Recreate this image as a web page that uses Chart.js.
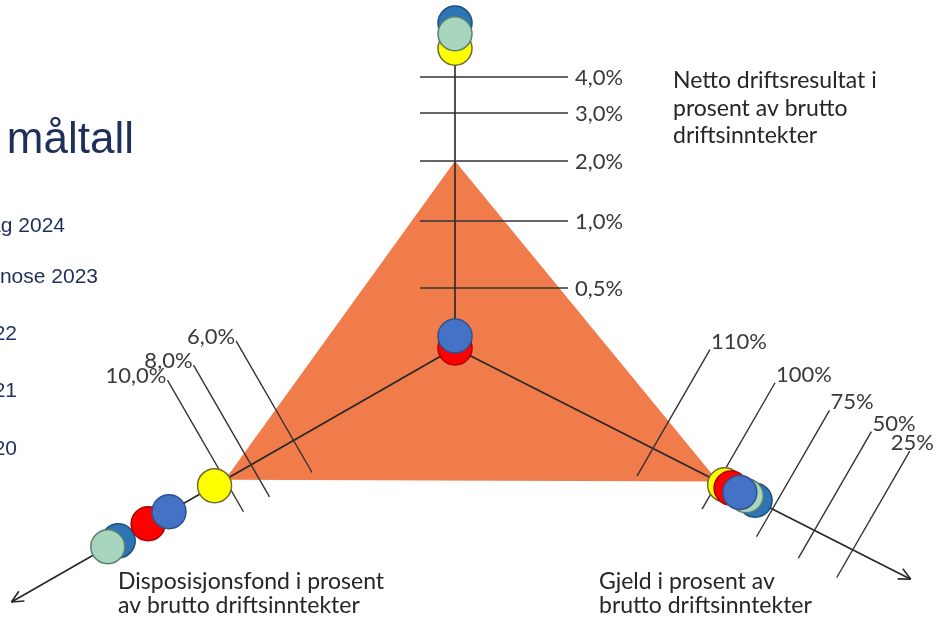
<!DOCTYPE html>
<html lang="no">
<head>
<meta charset="utf-8">
<title>Finansielle måltall</title>
<script src="https://cdn.jsdelivr.net/npm/chart.js@4.4.1/dist/chart.umd.min.js"></script>
<style>
  html, body { margin: 0; padding: 0; background: #fff; }
  canvas { display: block; }
</style>
</head>
<body>
<canvas id="grafMaaltall" width="942" height="619"></canvas>
<script>
// Serier (år) og verdier per måltall, i prosent av brutto driftsinntekter
const serier = ['Budsjettforslag 2024', 'Prognose 2023', '2022', '2021', '2020'];
const nettoDrift = [0.1, 0.0, 5.2, 5.5, 4.8];
const gjeld = [90, 94, 87, 83, 97];
const dispFond = [14.3, 15.9, 19.0, 18.2, 10.8];

// Måltallene (trekanten)
const maalNetto = 2.0;
const maalGjeld = 100;
const maalDisp = 10.0;

// Akseinndeling
const nettoTicks = [0.5, 1.0, 2.0, 3.0, 4.0];
const nettoTickLabels = ['0,5%', '1,0%', '2,0%', '3,0%', '4,0%'];
const gjeldTicks = [110, 100, 75, 50, 25];
const gjeldTickLabels = ['110%', '100%', '75%', '50%', '25%'];
const dispTicks = [6.0, 8.0, 10.0];
const dispTickLabels = ['6,0%', '8,0%', '10,0%'];

const aksetitler = {
    netto: ['Netto driftsresultat i', 'prosent av brutto', 'driftsinntekter'],
    disp: ['Disposisjonsfond i prosent', 'av brutto driftsinntekter'],
    gjeld: ['Gjeld i prosent av', 'brutto driftsinntekter']
};

// Farger per serie
const farger = ['#4472C4', '#FF0000', '#A8D5BE', '#2E75B6', '#FFFF00'];
const kantfarger = ['#2F528F', '#B00000', '#55806E', '#1F4E79', '#6B6B35'];

// Geometri: senter, akseretning og avstand (px) for hvert tick langs aksen
const senter = { x: 455, y: 348 };
const akser = {
    netto: { u: [0, -1], s: [1, 0], verdier: [0].concat(nettoTicks), avst: [0, 60, 127, 187, 235, 271], opp: 113, ned: 35, lengde: 300 },
    gjeld: { u: [0.8918, 0.4524], s: [0.5, -0.866], verdier: gjeldTicks, avst: [222, 295, 356, 403, 446], opp: 114, ned: 32, lengde: 511 },
    disp: { u: [-0.868, 0.497], s: [-0.5, -0.866], verdier: dispTicks, avst: [186, 235, 265], opp: 115, ned: 37, lengde: 511 }
};

// stykkevis lineær avstand fra senter for en verdi på en akse
function avstand(akse, verdi) {
    const v = akse.verdier, a = akse.avst;
    const retning = v[v.length - 1] - v[0];
    let i = 0;
    while (i < v.length - 2 && (verdi - v[i + 1]) * retning > 0) i++;
    const t = (verdi - v[i]) / (v[i + 1] - v[i]);
    return a[i] + t * (a[i + 1] - a[i]);
}

function punktPaa(akse, d) {
    return { x: senter.x + d * akse.u[0], y: senter.y + d * akse.u[1] };
}

function punkt(navn, verdi) {
    const akse = akser[navn];
    return punktPaa(akse, avstand(akse, verdi));
}

// Datasett: ett per år, tre punkter (ett per akse). Første datasett tegnes øverst.
const datasett = serier.map((navn, i) => ({
    label: navn,
    data: [punkt('netto', nettoDrift[i]), punkt('gjeld', gjeld[i]), punkt('disp', dispFond[i])],
    showLine: false,
    pointRadius: 17,
    pointBackgroundColor: farger[i],
    pointBorderColor: kantfarger[i],
    pointBorderWidth: 1.5,
    clip: false
}));

// Trekanten med måltallene
datasett.push({
    label: 'Måltall',
    data: [punkt('netto', maalNetto), punkt('gjeld', maalGjeld), punkt('disp', maalDisp), punkt('netto', maalNetto)],
    showLine: true,
    fill: 'shape',
    backgroundColor: '#F07B4B',
    borderColor: '#F07B4B',
    borderWidth: 0,
    pointRadius: 0,
    tension: 0,
    clip: false
});
const trekantIndeks = datasett.length - 1;

function linje(ctx, a, b) {
    ctx.beginPath();
    ctx.moveTo(a.x, a.y);
    ctx.lineTo(b.x, b.y);
    ctx.stroke();
}

const akseTegner = {
    id: 'akseTegner',
    afterDatasetDraw(chart, args) {
        if (args.index !== trekantIndeks) return;
        const ctx = chart.ctx;
        const sx = chart.scales.x, sy = chart.scales.y;
        const px = p => ({ x: sx.getPixelForValue(p.x), y: sy.getPixelForValue(p.y) });
        const c = px(senter);
        ctx.save();
        ctx.lineCap = 'butt';

        // aksene
        ctx.strokeStyle = '#262626';
        ctx.lineWidth = 1.6;
        Object.keys(akser).forEach(navn => {
            const akse = akser[navn];
            const ende = px(punktPaa(akse, akse.lengde));
            linje(ctx, c, ende);
            if (navn !== 'netto') {
                const [ux, uy] = akse.u;
                [0.45, -0.45].forEach(v => {
                    const bx = -(ux * Math.cos(v) - uy * Math.sin(v));
                    const by = -(ux * Math.sin(v) + uy * Math.cos(v));
                    linje(ctx, ende, { x: ende.x + bx * 13, y: ende.y + by * 13 });
                });
            }
        });

        // tick-streker og etiketter
        const grupper = [
            ['netto', nettoTicks, nettoTickLabels],
            ['gjeld', gjeldTicks, gjeldTickLabels],
            ['disp', dispTicks, dispTickLabels]
        ];
        ctx.font = '22px Lato';
        ctx.fillStyle = '#3a3a3a';
        ctx.strokeStyle = '#333333';
        ctx.lineWidth = 1.4;
        grupper.forEach(([navn, ticks, etiketter]) => {
            const akse = akser[navn];
            ticks.forEach((t, j) => {
                const kryss = punktPaa(akse, avstand(akse, t));
                const a = px({ x: kryss.x - akse.s[0] * akse.ned, y: kryss.y - akse.s[1] * akse.ned });
                const b = px({ x: kryss.x + akse.s[0] * akse.opp, y: kryss.y + akse.s[1] * akse.opp });
                linje(ctx, a, b);
                if (navn === 'netto') {
                    ctx.textAlign = 'left';
                    ctx.textBaseline = 'middle';
                    ctx.fillText(etiketter[j], b.x + 7, b.y + 1);
                } else if (navn === 'gjeld') {
                    ctx.textAlign = 'left';
                    ctx.textBaseline = 'alphabetic';
                    // hold etiketten innenfor bildet
                    const bredde = ctx.measureText(etiketter[j]).width;
                    const x = Math.min(b.x + 1, chart.width - bredde - 8);
                    ctx.fillText(etiketter[j], x, b.y - 1);
                } else {
                    ctx.textAlign = 'right';
                    ctx.textBaseline = 'alphabetic';
                    ctx.fillText(etiketter[j], b.x - 1, b.y + 3);
                }
            });
        });
        ctx.restore();
    },
    afterDraw(chart) {
        const ctx = chart.ctx;
        ctx.save();
        // aksetitler
        ctx.font = '23px Lato';
        ctx.fillStyle = '#262626';
        ctx.textAlign = 'left';
        ctx.textBaseline = 'alphabetic';
        aksetitler.netto.forEach((t, i) => ctx.fillText(t, 673, 88 + i * 27.5));
        aksetitler.disp.forEach((t, i) => ctx.fillText(t, 118, 589 + i * 24));
        aksetitler.gjeld.forEach((t, i) => ctx.fillText(t, 599, 589 + i * 24));

        // tegnforklaring (utenfor bildet til venstre, bare slutten synes)
        ctx.fillStyle = '#1F2F5C';
        ctx.textAlign = 'right';
        ctx.font = '44px "Liberation Sans", Arial, sans-serif';
        ctx.fillText('Finansielle måltall', 134, 153);
        ctx.font = '21px "Liberation Sans", Arial, sans-serif';
        const legendY = [232, 283, 340, 397, 455];
        const legendX = [65, 98, 17, 17, 17];
        serier.forEach((navn, i) => ctx.fillText(navn, legendX[i], legendY[i]));
        ctx.restore();
    }
};

new Chart(document.getElementById('grafMaaltall'), {
    type: 'scatter',
    data: { datasets: datasett },
    options: {
        responsive: false,
        animation: false,
        events: [],
        layout: { autoPadding: false, padding: 0 },
        scales: {
            x: { type: 'linear', min: 0, max: 942, display: false },
            y: { type: 'linear', min: 0, max: 619, reverse: true, display: false }
        },
        plugins: {
            legend: { display: false },
            tooltip: { enabled: false },
            title: { display: false }
        }
    },
    plugins: [akseTegner]
});
</script>
</body>
</html>
